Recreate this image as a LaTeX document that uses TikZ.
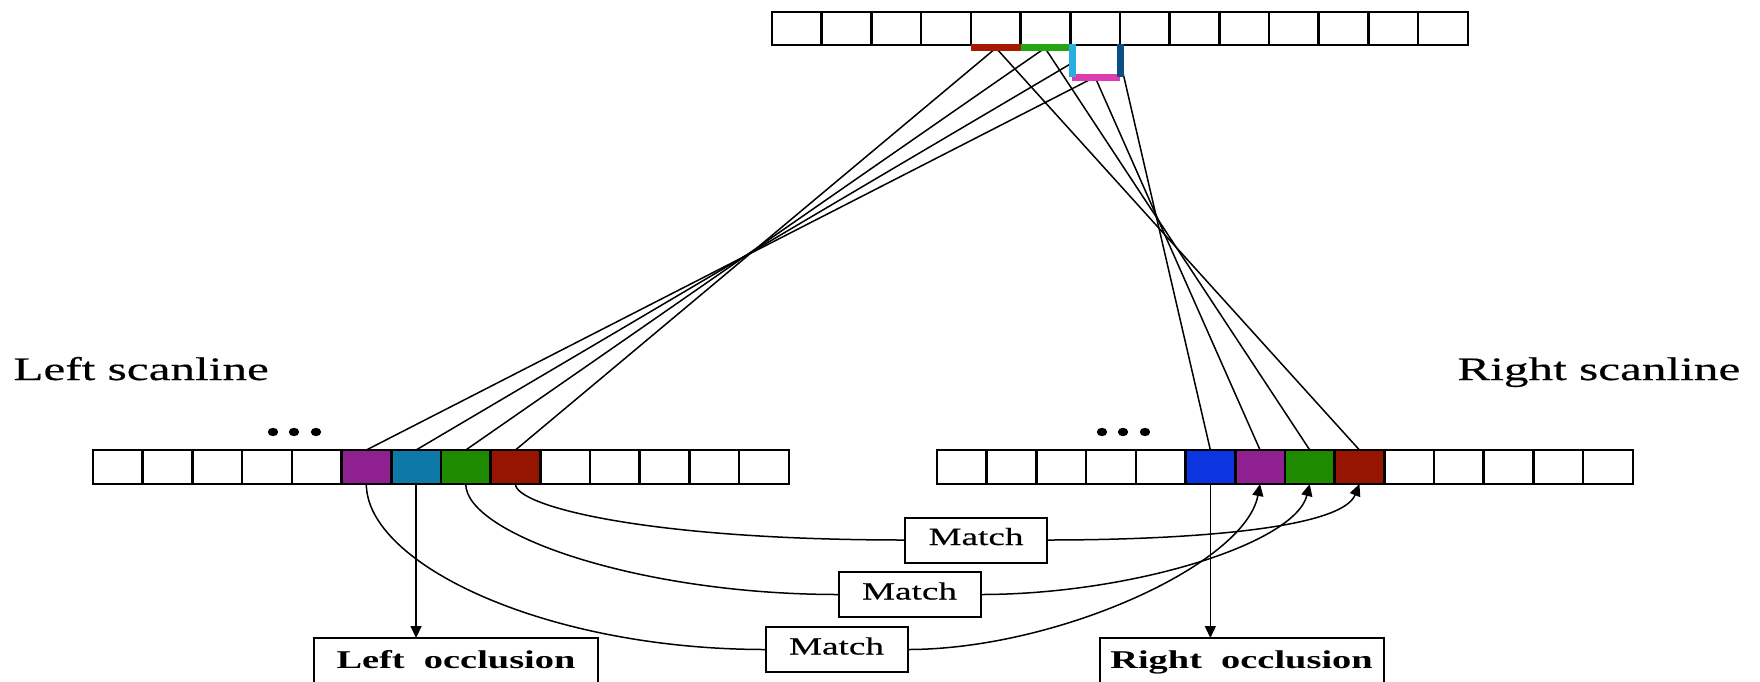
\documentclass[tikz,border=0pt]{standalone}
\usepackage{fontspec}
\setmainfont{Liberation Serif}
\newfontfamily\wf[FakeStretch=1.5]{Liberation Serif}
\newfontfamily\wfr[FakeStretch=1.5,FakeBold=0.4]{Liberation Serif}
\usetikzlibrary{arrows.meta}
\definecolor{cpurple}{HTML}{8E2090}
\definecolor{cteal}{HTML}{0E78A8}
\definecolor{cgreen}{HTML}{1E8A00}
\definecolor{cred}{HTML}{951500}
\definecolor{cblue}{HTML}{0A35E0}
\definecolor{bred}{HTML}{A51A00}
\definecolor{bgreen}{HTML}{25A514}
\definecolor{bcyan}{HTML}{28AEE0}
\definecolor{bmag}{HTML}{DD3BB0}
\definecolor{bdark}{HTML}{0B4F85}
\begin{document}
\begin{tikzpicture}[x=0.5pt,y=-0.5pt,
  cell/.style={draw=black,line width=1.3pt,minimum width=24.85pt,minimum height=17pt,inner sep=0pt,outer sep=0pt},
  conn/.style={line width=0.75pt},
  bar/.style={line width=3.5pt},
  box/.style={draw,line width=1pt,inner sep=0pt,outer sep=0pt,minimum width=71pt,minimum height=22.5pt,font=\wfr\fontsize{12.4pt}{14pt}\selectfont,text height=0.7em,text depth=0.2em},
  occl/.style={draw,line width=1pt,inner sep=0pt,outer sep=0pt,minimum width=142pt,minimum height=25pt,font=\wf\bfseries\fontsize{12.8pt}{15pt}\selectfont,text height=.7em,text depth=.2em},
  arr/.style={conn,-{Triangle[length=6pt,width=5.5pt]}},
  lab/.style={font=\wfr\fontsize{16.4pt}{19pt}\selectfont,inner sep=0pt,anchor=base west},
  dot/.style={fill=black}]
\path[use as bounding box] (0,0) rectangle (1760,681);
\clip (0,0) rectangle (1760,681);

% rows of cells
\foreach \k in {0,...,13}
  \node[cell,minimum height=16.5pt] (T\k) at ({772+(\k+0.5)*49.7},28.5) {};
\foreach \c [count=\k from 0] in {white,white,white,white,white,cpurple,cteal,cgreen,cred,white,white,white,white,white}
  \node[cell,fill=\c] (L\k) at ({93+(\k+0.5)*49.7},467) {};
\foreach \c [count=\k from 0] in {white,white,white,white,white,cblue,cpurple,cgreen,cred,white,white,white,white,white}
  \node[cell,fill=\c] (R\k) at ({937+(\k+0.5)*49.7},467) {};

% dots
\foreach \x in {273,294,316,1102,1123,1145}
  \fill[dot] (\x,432) circle[x radius=2.6pt,y radius=2.1pt];

% labels
\node[lab] (ls) at (13,380) {Left scanline};
\node[lab] (rs) at (1457,380) {Right scanline};

% start points on the top row
\coordinate (pR) at (996,48);
\coordinate (pG) at (1045,48);
\coordinate (pC) at (1072,63);
\coordinate (pM) at (1095,77);
\coordinate (pB) at (1120,60);
\coordinate (cyT) at (1072,44);
\coordinate (cyB) at (1072,77);
\coordinate (dbT) at (1120,44);
\coordinate (dbB) at (1120,77);

% projection lines
\draw[conn] (pR) -- (L8.north);
\draw[conn] (pR) -- (R8.north);
\draw[conn] (pG) -- (L7.north);
\draw[conn] (pG) -- (R7.north);
\draw[conn] (pC) -- (L6.north);
\draw[conn] (pM) -- (L5.north);
\draw[conn] (pM) -- (R6.north);
\draw[conn] (pB) -- (R5.north);

% coloured bars
\draw[bar,bred] ([yshift=-1.2pt]T4.south west) -- ([yshift=-1.2pt]T4.south east);
\draw[bar,bgreen] ([yshift=-1.2pt]T5.south west) -- ([yshift=-1.2pt]T5.south east);
\draw[bar,bmag] (cyB) -- (dbB);
\draw[bar,bcyan] (cyT) -- (cyB);
\draw[bar,bdark] (dbT) -- (dbB);

% match boxes
\node[box] (M1) at (976,540) {Match};
\node[box] (M2) at (909.5,594.5) {Match};
\node[box] (M3) at (836.5,649.5) {Match};

% occlusion boxes
\node[occl,anchor=north] (LO) at (456,638) {Left~~occlusion};
\node[occl,anchor=north] (RO) at (1241.5,638) {Right~~occlusion};

% occlusion arrows
\draw[arr] (L6.south) -- (L6.south |- LO.north);
\draw[arr] (R5.south) -- (R5.south |- RO.north);

% match curves
\draw[conn] (L8.south) .. controls +(0,22) and +(-260,0) .. (M1.west);
\draw[arr] (M1.east) .. controls +(140,0) and +(-18,45) .. (R8.south);
\draw[conn] (L7.south) .. controls +(0,50) and +(-200,0) .. (M2.west);
\draw[arr] (M2.east) .. controls +(150,0) and +(-15,60) .. (R7.south);
\draw[conn] (L5.south) .. controls +(0,80) and +(-220,0) .. (M3.west);
\draw[arr] (M3.east) .. controls +(150,0) and +(-15,80) .. (R6.south);
\end{tikzpicture}
\end{document}
